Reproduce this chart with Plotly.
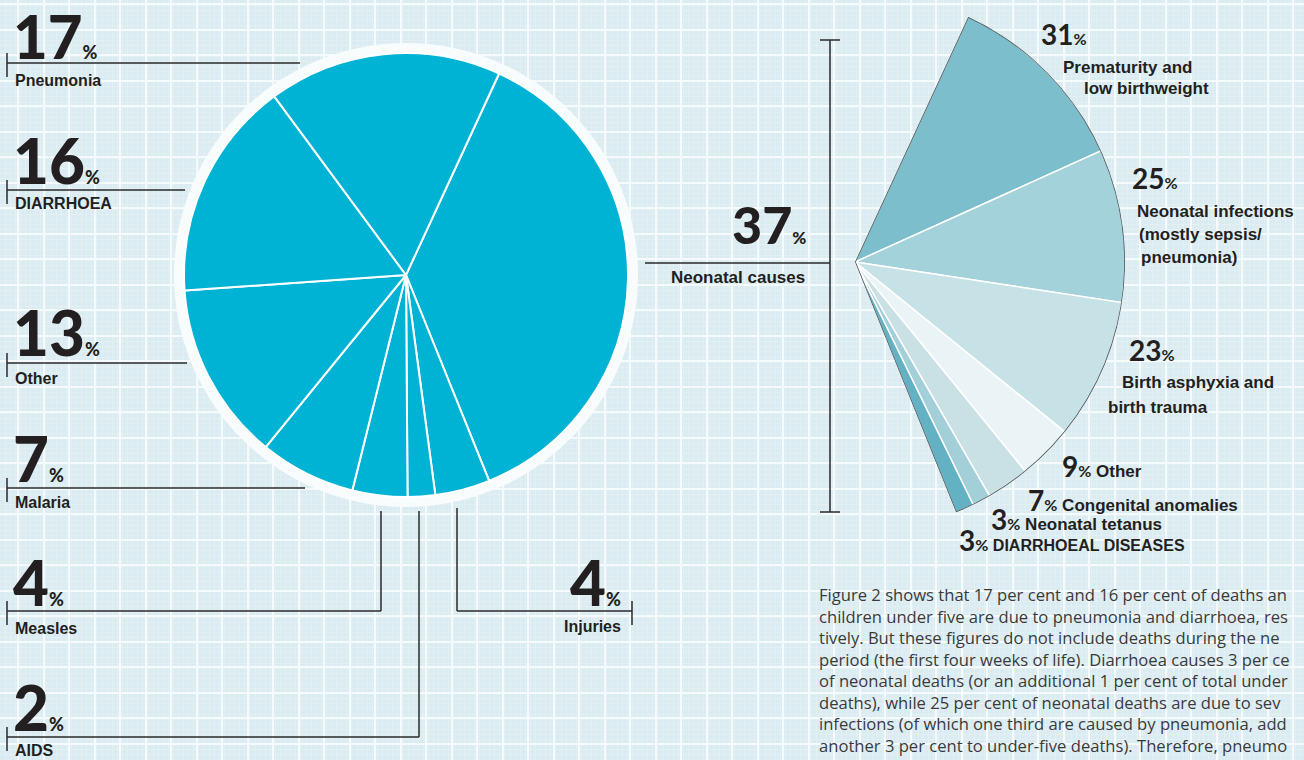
import numpy as np
import plotly.graph_objects as go

W, H = 1304, 760

# ---------------- data ----------------
causes = ["Neonatal causes", "Injuries", "AIDS", "Measles", "Malaria", "Other", "DIARRHOEA", "Pneumonia"]
shares = [37, 4, 2, 4, 7, 13, 16, 17]

neo_labels = ["Prematurity and low birthweight", "Neonatal infections (mostly sepsis/pneumonia)",
              "Birth asphyxia and birth trauma", "Other", "Congenital anomalies",
              "Neonatal tetanus", "DIARRHOEAL DISEASES"]
neo_shares = [31, 25, 23, 9, 7, 3, 3]
neo_colors = ["#7CBECB", "#A4D2DB", "#C7E2E7", "#EAF4F6", "#C9E0E5", "#A3CFD9", "#62B2C4"]

# paragraph as visible in the picture (cut by the right edge of the page)
paragraph = [
    "Figure 2 shows that 17 per cent and 16 per cent of deaths an",
    "children under five are due to pneumonia and diarrhoea, res",
    "tively. But these figures do not include deaths during the ne",
    "period (the first four weeks of life). Diarrhoea causes 3 per ce",
    "of neonatal deaths (or an additional 1 per cent of total under",
    "deaths), while 25 per cent of neonatal deaths are due to sev",
    "infections (of which one third are caused by pneumonia, add",
    "another 3 per cent to under-five deaths). Therefore, pneumo",
]

START = 24.8          # neonatal slice start, degrees clockwise from 12 o'clock
PIE_C, PIE_R, RING_R = (406, 275), 222, 232
FAN_C, FAN_R = (855, 262), 270

BG = "#DAECF2"
INK = "#231F20"
NUMF = "Lato"
LABF = "Liberation Sans"

fig = go.Figure()

# invisible cartesian trace so the pixel-like axes (grid paper) exist
fig.add_trace(go.Scatter(x=[0], y=[0], mode="none", hoverinfo="skip", showlegend=False))

# ---------------- left pie ----------------
cx, cy = PIE_C
fig.add_trace(go.Pie(
    values=shares, labels=causes, sort=False, direction="clockwise", rotation=START,
    marker=dict(colors=["#00B3D4"] * len(shares), line=dict(color="white", width=2)),
    textinfo="none", hoverinfo="skip", showlegend=False,
    domain=dict(x=[(cx - PIE_R) / W, (cx + PIE_R) / W], y=[1 - (cy + PIE_R) / H, 1 - (cy - PIE_R) / H]),
))

# ---------------- right fan (neonatal breakdown) ----------------
span = shares[0] / sum(shares) * 360.0
widths = np.array(neo_shares) / sum(neo_shares) * span
edges = START + np.concatenate([[0], np.cumsum(widths)])
thetas = (edges[:-1] + edges[1:]) / 2
fig.add_trace(go.Barpolar(
    r=[1] * len(neo_shares), theta=thetas, width=widths, text=neo_labels,
    marker=dict(color=neo_colors, line=dict(color="white", width=1.5)),
    hoverinfo="skip", showlegend=False, subplot="polar",
))
fig.add_trace(go.Barpolar(
    r=[1], theta=[START + span / 2], width=[span],
    marker=dict(color="rgba(0,0,0,0)", line=dict(color="#4B5356", width=1.6)),
    hoverinfo="skip", showlegend=False, subplot="polar",
))
sector = [90 - (START + span), 90 - START]
a0, a1 = np.radians(sector)
fx, fy = FAN_C
ybot = fy - FAN_R * np.sin(a0)
ytop = fy - FAN_R * np.sin(a1)
polar_domain = dict(x=[fx / W, (fx + FAN_R) / W], y=[1 - ybot / H, 1 - ytop / H])

# ---------------- shapes ----------------
shapes = []
LINE = dict(color="#2A2A2A", width=1.5)

# white ring behind pie (drawn first, above the grid, below the pie)
shapes.append(dict(type="circle", xref="x", yref="y", x0=cx - RING_R, x1=cx + RING_R,
                   y0=cy - RING_R, y1=cy + RING_R, fillcolor="#F8FCFD", line=dict(width=0),
                   layer="between"))


def seg(x0, y0, x1, y1):
    shapes.append(dict(type="line", xref="x", yref="y", x0=x0, y0=y0, x1=x1, y1=y1, line=LINE,
                       layer="between"))


# left leaders (label line + end tick)
for yl, xend in [(63, 300), (190, 185), (363, 187), (488, 305), (611, 381), (737, 419)]:
    seg(7, yl, xend, yl)
    seg(7, yl - 10, 7, yl + 14)
seg(381, 511, 381, 611)
seg(419, 511, 419, 737)
seg(457, 508, 457, 611)
seg(457, 611, 632, 611)
seg(632, 601, 632, 625)
# neonatal connector and bracket
seg(645, 263, 830, 263)
seg(830, 40, 830, 512)
seg(820, 40, 840, 40)
seg(820, 512, 840, 512)

# ---------------- annotations ----------------
anns = []


def ann(x, y, text, size, xanchor="left", yanchor="middle", family=LABF, weight="bold", color=INK):
    anns.append(dict(x=x, y=y, xref="x", yref="y", text=text, showarrow=False, xanchor=xanchor,
                     yanchor=yanchor, align="right" if xanchor == "right" else "left", borderpad=0,
                     font=dict(family=family, size=size, color=color, weight=weight)))


def big(x, base, val, size, psize, xanchor="left", weight=900, suffix="", ssize=17, sfam=LABF):
    txt = f'<span style="font-size:{size}px">{val}</span><span style="font-size:{psize}px">%</span>'
    if suffix:
        txt += f'<span style="font-size:{ssize}px;font-family:{sfam};font-weight:bold"> {suffix}</span>'
    ann(x, base + 0.213 * size, txt, size, xanchor=xanchor, yanchor="bottom", family=NUMF, weight=weight)


# left pie labels
left_items = [  # (cause index, number baseline, label centre, size)
    (7, 60, 80, 60), (6, 185, 203, 62), (5, 357, 378, 62), (4, 483, 502, 62), (3, 607, 628, 62),
    (2, 732, 750, 62)]
for idx, base, lab, sz in left_items:
    big(12, base, shares[idx], sz, 18)
    ann(14, lab, causes[idx], 16)
big(622, 607, shares[1], 62, 18, xanchor="right")
ann(622, 626, causes[1], 16, xanchor="right")

big(807, 245, shares[0], 52, 17, xanchor="right")
ann(806, 277, causes[0], 17, xanchor="right")

# right fan labels
big(1040, 46, neo_shares[0], 28, 16, weight=700)
ann(1062, 67, "Prematurity and", 17)
ann(1083, 88, "low birthweight", 17)
big(1131, 190, neo_shares[1], 28, 16, weight=700)
ann(1136, 211, "Neonatal infections", 17)
ann(1138, 234, "(mostly sepsis/", 17)
ann(1140, 257, "pneumonia)", 17)
big(1128, 362, neo_shares[2], 28, 16, weight=700)
ann(1121, 382, "Birth asphyxia and", 17)
ann(1107, 407, "birth trauma", 17)
big(1061, 478, neo_shares[3], 28, 16, weight=700, suffix=neo_labels[3])
big(1027, 512, neo_shares[4], 28, 16, weight=700, suffix=neo_labels[4])
big(990, 531, neo_shares[5], 28, 16, weight=700, suffix=neo_labels[5])
big(958, 552, neo_shares[6], 28, 16, weight=700, suffix=neo_labels[6], ssize=16)

# paragraph
ann(818, 582, "<br>".join(paragraph), 16.6, yanchor="top", family="Open Sans", weight="normal",
    color="#3A3A3A")

# ---------------- layout ----------------
axis_common = dict(showticklabels=False, zeroline=False, showline=False, ticks="", fixedrange=True,
                   showgrid=True, gridcolor="#F5FAFC", gridwidth=2, domain=[0, 1],
                   minor=dict(showgrid=True, gridcolor="#E2F0F4", gridwidth=1))
fig.update_layout(
    width=W, height=H, margin=dict(l=0, r=0, t=0, b=0),
    paper_bgcolor=BG, plot_bgcolor=BG, showlegend=False,
    xaxis=dict(range=[0, W], tick0=18, dtick=25.5, **axis_common),
    yaxis=dict(range=[H, 0], tick0=4, dtick=25.5, **axis_common),
    polar=dict(domain=polar_domain, sector=sector, hole=0, bgcolor="rgba(0,0,0,0)",
               radialaxis=dict(visible=False, range=[0, 1]),
               angularaxis=dict(visible=False, rotation=90, direction="clockwise")),
    shapes=shapes, annotations=anns,
)
fig.update_xaxes(minor_dtick=5.1)
fig.update_yaxes(minor_dtick=5.1)

fig.write_html("out.html")
